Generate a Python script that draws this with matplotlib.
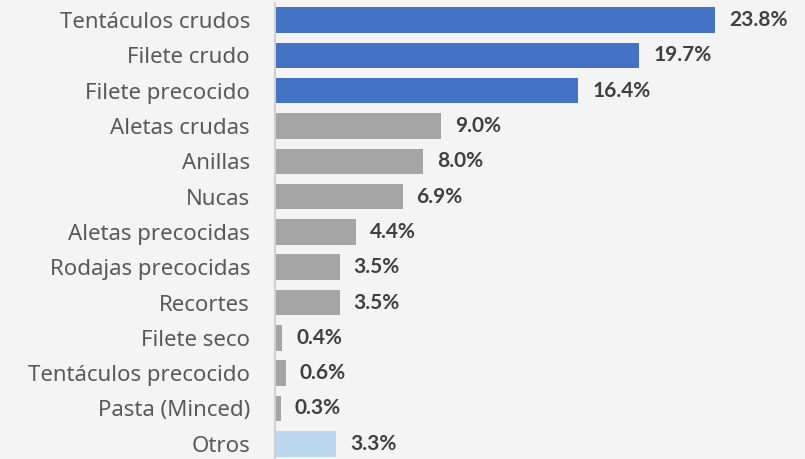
import matplotlib.pyplot as plt

categories = ['Tentáculos crudos', 'Filete crudo', 'Filete precocido', 'Aletas crudas',
              'Anillas', 'Nucas', 'Aletas precocidas', 'Rodajas precocidas', 'Recortes',
              'Filete seco', 'Tentáculos precocido', 'Pasta (Minced)', 'Otros']
values = [23.8, 19.7, 16.4, 9.0, 8.0, 6.9, 4.4, 3.5, 3.5, 0.4, 0.6, 0.3, 3.3]
colors = ['#4472C4'] * 3 + ['#A5A5A5'] * 9 + ['#BDD7EE']

plt.rcParams['font.family'] = ['Noto Sans', 'DejaVu Sans']
bg = '#F4F4F4'

fig = plt.figure(figsize=(8.05, 4.59), dpi=100, facecolor=bg)
ax = fig.add_axes([275 / 805, 0, 530 / 805, 456 / 459], facecolor=bg)

pos = list(range(len(categories)))
ax.barh(pos, values, height=0.72, color=colors)
for i, v in enumerate(values):
    ax.text(v + 0.75, i, '%.1f%%' % v, va='center', ha='left', family=['Lato', 'DejaVu Sans'],
            fontsize=15, fontweight='bold', color='#404040')

ax.set_xlim(0, 530 / 18.49)
ax.set_ylim(12.43, -0.48)
ax.set_yticks(pos)
ax.set_yticklabels(categories, fontsize=16, color='#595959')
ax.tick_params(axis='y', length=0, pad=18)
ax.set_xticks([])
for s in ['top', 'right', 'bottom']:
    ax.spines[s].set_visible(False)
ax.spines['left'].set_color('#D0D0D0')
ax.spines['left'].set_linewidth(1.5)

fig.savefig('out.png', dpi=100, facecolor=bg)
